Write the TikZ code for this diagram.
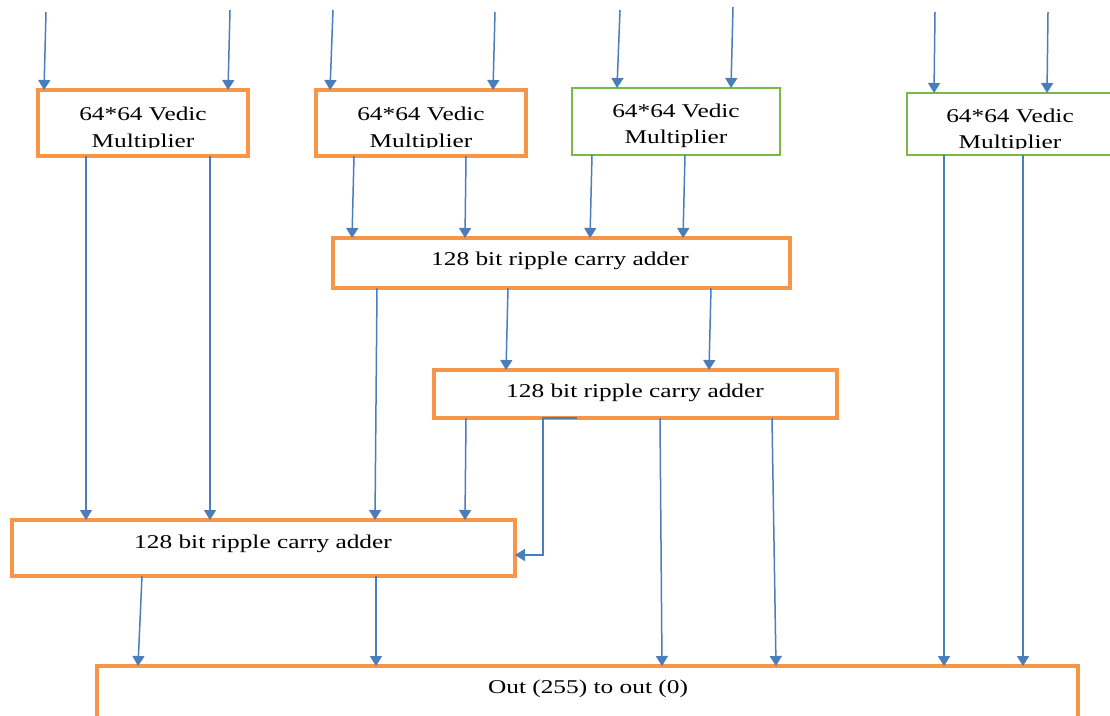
\documentclass[tikz,border=0pt]{standalone}
\usepackage{fontspec}
\setmainfont{Liberation Serif}[FakeStretch=1.3]
\usetikzlibrary{arrows.meta}
\definecolor{boxorange}{RGB}{247,150,70}
\definecolor{boxgreen}{RGB}{122,182,72}
\definecolor{wireblue}{RGB}{74,126,187}
\begin{document}
\begin{tikzpicture}[x=1pt,y=-1pt,
  orangebox/.style={draw=boxorange, line width=3.2pt, fill=white, inner sep=0pt, outer sep=0pt},
  greenbox/.style={draw=boxgreen, line width=1.5pt, fill=white, inner sep=0pt, outer sep=0pt},
  lbl/.style={anchor=base, inner sep=0pt, font=\fontsize{19.5}{24}\selectfont},
  wire/.style={draw=wireblue, line width=1.5pt, -{Triangle[width=12pt,length=10pt]}}]
\useasboundingbox (0,0) rectangle (1110,715);
\clip (0,0) rectangle (1110,715);

% multipliers
\node[orangebox, minimum width=210pt, minimum height=66pt] (M1) at (143,123) {};
\node[orangebox, minimum width=210pt, minimum height=66pt] (M2) at (421,123) {};
\node[greenbox, minimum width=208pt, minimum height=67pt] (M3) at (676,121.5) {};
\node[greenbox, minimum width=207pt, minimum height=62pt] (M4) at (1010.5,124) {};

\node[lbl] (M1a) at (143,120) {64*64 Vedic};
\begin{scope}
  \clip (40,92) rectangle (246,147.5);
  \node[lbl] (M1b) at (143,147) {Multiplier};
\end{scope}
\node[lbl] (M2a) at (421,120) {64*64 Vedic};
\begin{scope}
  \clip (318,92) rectangle (524,147.5);
  \node[lbl] (M2b) at (421,147) {Multiplier};
\end{scope}
\node[lbl] (M3a) at (676,117) {64*64 Vedic};
\node[lbl] (M3b) at (676,143) {Multiplier};
\node[lbl] (M4a) at (1010,122) {64*64 Vedic};
\begin{scope}
  \clip (909,95) rectangle (1110,148.5);
  \node[lbl] (M4b) at (1010,148) {Multiplier};
\end{scope}

% adders
\node[orangebox, minimum width=457pt, minimum height=50pt] (A1) at (561.5,263) {};
\node[lbl] (A1t) at (560,265) {128 bit ripple carry adder};
\node[orangebox, minimum width=403pt, minimum height=48pt] (A2) at (635.5,394) {};
\node[lbl] (A2t) at (635,397) {128 bit ripple carry adder};
\node[orangebox, minimum width=503pt, minimum height=56pt] (A3) at (263.5,548) {};
\node[lbl] (A3t) at (263,548) {128 bit ripple carry adder};

% output register
\node[orangebox, minimum width=981pt, minimum height=60pt] (OUT) at (587.5,696) {};
\node[lbl] (OUTt) at (588,693) {Out (255) to out (0)};

% operand inputs
\coordinate (i1) at (46,12);   \coordinate (i2) at (230,10);
\coordinate (i3) at (333,10);  \coordinate (i4) at (495,12);
\coordinate (i5) at (620,10);  \coordinate (i6) at (733,7);
\coordinate (i7) at (935,12);  \coordinate (i8) at (1048,12);
\draw[wire] (i1) -- (44,0 |- M1.north);
\draw[wire] (i2) -- (228,0 |- M1.north);
\draw[wire] (i3) -- (330,0 |- M2.north);
\draw[wire] (i4) -- (493,0 |- M2.north);
\draw[wire] (i5) -- (617,0 |- M3.north);
\draw[wire] (i6) -- (731,0 |- M3.north);
\draw[wire] (i7) -- (934,0 |- M4.north);
\draw[wire] (i8) -- (1047,0 |- M4.north);

% multiplier outputs
\draw[wire] (86,0 |- M1.south) -- (86,0 |- A3.north);
\draw[wire] (210,0 |- M1.south) -- (210,0 |- A3.north);
\draw[wire] (354,0 |- M2.south) -- (352,0 |- A1.north);
\draw[wire] (466,0 |- M2.south) -- (465,0 |- A1.north);
\draw[wire] (592,0 |- M3.south) -- (590,0 |- A1.north);
\draw[wire] (685,0 |- M3.south) -- (683,0 |- A1.north);
\draw[wire] (944,0 |- M4.south) -- (944,0 |- OUT.north);
\draw[wire] (1023,0 |- M4.south) -- (1023,0 |- OUT.north);

% first adder outputs
\draw[wire] (377,0 |- A1.south) -- (375,0 |- A3.north);
\draw[wire] (508,0 |- A1.south) -- (506,0 |- A2.north);
\draw[wire] (711,0 |- A1.south) -- (709,0 |- A2.north);

% second adder outputs
\draw[wire] (466,0 |- A2.south) -- (465,0 |- A3.north);
\draw[wire] (577,0 |- A2.south) -- (543,0 |- A2.south) -- (543,555) -- (A3.east |- 0,555);
\draw[wire] (660,0 |- A2.south) -- (662,0 |- OUT.north);
\draw[wire] (772,0 |- A2.south) -- (776,0 |- OUT.north);

% third adder outputs
\draw[wire] (142,0 |- A3.south) -- (138,0 |- OUT.north);
\draw[wire] (376,0 |- A3.south) -- (376,0 |- OUT.north);
\end{tikzpicture}
\end{document}
